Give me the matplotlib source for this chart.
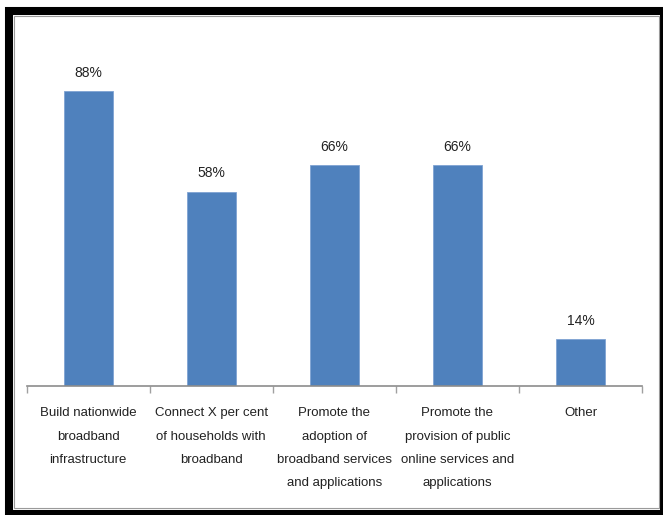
import matplotlib.pyplot as plt
from matplotlib.patches import Rectangle
import numpy as np

categories = [
    "Build nationwide\nbroadband\ninfrastructure",
    "Connect X per cent\nof households with\nbroadband",
    "Promote the\nadoption of\nbroadband services\nand applications",
    "Promote the\nprovision of public\nonline services and\napplications",
    "Other",
]
values = [88, 58, 66, 66, 14]
value_labels = ["88%", "58%", "66%", "66%", "14%"]

plt.rcParams['font.family'] = ['Liberation Sans Narrow', 'Liberation Sans', 'DejaVu Sans']

fig = plt.figure(figsize=(6.63, 5.15), dpi=100)
ax = fig.add_axes([0.0403, 0.251, 0.928, 0.650])

x = np.arange(len(values))
ax.bar(x, values, width=0.4, color='#4F81BD', edgecolor='#7FA3D3', linewidth=0.6)

for xi, v, lab in zip(x, values, value_labels):
    ax.annotate(lab, (xi, v), xytext=(0, 8), textcoords='offset points',
                ha='center', va='bottom', fontsize=10, color='#222222')

ax.set_xlim(-0.5, len(values) - 0.5)
ax.set_ylim(0, 100)
ax.set_yticks([])
ax.set_xticks(x)
ax.set_xticklabels(categories, fontsize=9.5, color='#222222', linespacing=2.25)
ax.tick_params(axis='x', which='major', length=0, pad=15.5)
ax.set_xticks(np.arange(len(values) + 1) - 0.5, minor=True)
ax.tick_params(axis='x', which='minor', length=5, color='#A0A0A0', width=1)

for side in ['top', 'right', 'left']:
    ax.spines[side].set_visible(False)
ax.spines['bottom'].set_color('#8C8C8C')
ax.spines['bottom'].set_linewidth(1.2)

# black frame around the chart
W, H = 663, 515
frame = Rectangle((9 / W, 1 - 514 / H), (664 - 9) / W, (514 - 11) / H,
                  transform=fig.transFigure, fill=False, edgecolor='black',
                  linewidth=5.8, clip_on=False)
fig.patches.append(frame)
inner = Rectangle((14 / W, 1 - 508 / H), (659 - 14) / W, (508 - 16) / H,
                  transform=fig.transFigure, fill=False, edgecolor='#9A9A9A',
                  linewidth=0.8, clip_on=False)
fig.patches.append(inner)

fig.savefig('out.png', dpi=100)
